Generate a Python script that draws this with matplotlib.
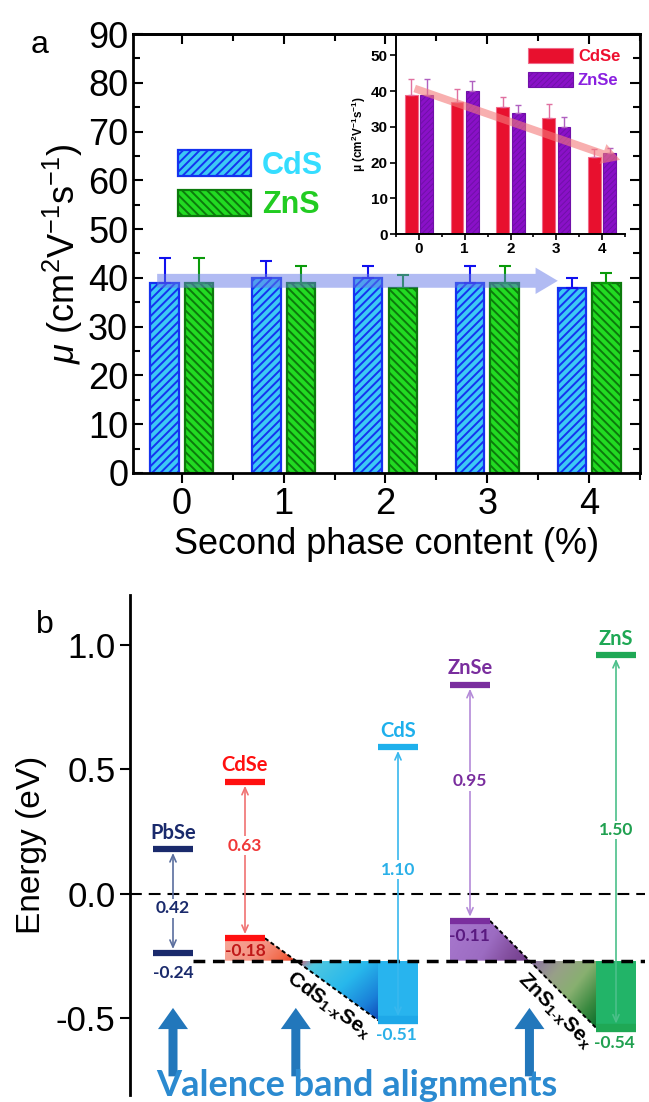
import numpy as np
import matplotlib
matplotlib.use('Agg')
import matplotlib.pyplot as plt
from matplotlib.patches import Polygon, Rectangle, FancyArrowPatch
from matplotlib.colors import LinearSegmentedColormap
from matplotlib.ticker import MultipleLocator

plt.rcParams['font.family'] = ['Liberation Sans', 'DejaVu Sans']
plt.rcParams['mathtext.fontset'] = 'custom'
plt.rcParams['mathtext.rm'] = 'Liberation Sans'
plt.rcParams['mathtext.it'] = 'Liberation Sans:italic'
plt.rcParams['mathtext.bf'] = 'Liberation Sans:bold'
plt.rcParams['lines.scale_dashes'] = False

# ---------------- data: panel a ----------------
content = [0, 1, 2, 3, 4]
cds_mu = [39, 40, 40, 39, 38]
cds_err = [5, 3.5, 2.5, 3.5, 2]
zns_mu = [39, 39, 38, 39, 39]
zns_err = [5, 3.5, 2.5, 3.5, 2]
cdse_mu = [39, 37, 35.5, 32.5, 21.5]
cdse_err = [4.5, 3.5, 3, 3.8, 2.3]
znse_mu = [39, 40, 34, 30, 22.6]
znse_err = [4.5, 2.8, 2, 2.8, 1.5]
main_yticks = [0, 10, 20, 30, 40, 50, 60, 70, 80, 90]
inset_yticks = [0, 10, 20, 30, 40, 50]
s_trend_x = [-0.27, 3.72]
s_trend_y = [39.4, 39.4]
se_trend_x = [-0.15, 4.45]
se_trend_y = [41, 20.5]

# ---------------- data: panel b ----------------
materials = ['PbSe', 'CdSe', 'CdS', 'ZnSe', 'ZnS']
vb_edge = [-0.24, -0.18, -0.51, -0.11, -0.54]
band_gap = [0.42, 0.63, 1.10, 0.95, 1.50]
ref_level = -0.27
energy_ticks = [-0.5, 0.0, 0.5, 1.0]
energy_ticklabels = ['-0.5', '0.0', '0.5', '1.0']
alloys = [(1, 2, 'CdS$_{\\mathbf{1\\text{-}x}}$Se$_{\\mathbf{x}}$'),
          (3, 4, 'ZnS$_{\\mathbf{1\\text{-}x}}$Se$_{\\mathbf{x}}$')]

fig = plt.figure(figsize=(6.49, 11.02), dpi=100)
W, H = 649.0, 1102.0


def px_axes(l, t, r, b):
    return [l / W, 1 - b / H, (r - l) / W, (b - t) / H]


# ================= panel a =================
axa = fig.add_axes(px_axes(133, 34, 640, 473))
x = np.array(content, dtype=float)
w, off = 0.28, 0.17
plt.rcParams['hatch.linewidth'] = 1.4
b1 = axa.bar(x - off, cds_mu, w, color='#3CC8F5', edgecolor='#1432F0',
             hatch='////', linewidth=1.6, zorder=2)
b2 = axa.bar(x + off, zns_mu, w, color='#22DA22', edgecolor='#0C7A0C',
             hatch='\\\\\\\\', linewidth=1.6, zorder=2)
axa.errorbar(x - off, cds_mu, yerr=[np.zeros(5), cds_err], fmt='none',
             ecolor='#1010EE', capsize=4, elinewidth=1.5, capthick=1.5, zorder=3)
axa.errorbar(x + off, zns_mu, yerr=[np.zeros(5), zns_err], fmt='none',
             ecolor='#0A9A0A', capsize=4, elinewidth=1.5, capthick=1.5, zorder=3)
arr = FancyArrowPatch((s_trend_x[0], s_trend_y[0]), (s_trend_x[1], s_trend_y[1]),
                      arrowstyle='simple,head_width=1.9,head_length=1.6,tail_width=1.0',
                      mutation_scale=10, color='#6478E8', alpha=0.5, lw=0, zorder=4)
axa.add_patch(arr)
axa.set_xlim(-0.48, 4.5)
axa.set_ylim(0, 90)
axa.set_yticks(main_yticks)
axa.set_xticks(content)
axa.yaxis.set_minor_locator(MultipleLocator(5))
axa.xaxis.set_minor_locator(MultipleLocator(0.5))
axa.tick_params(axis='both', labelsize=26, width=1.5)
axa.tick_params(axis='y', which='major', direction='in', length=7, left=True, right=True)
axa.tick_params(axis='y', which='minor', direction='in', length=5, width=1.5, left=True, right=True)
axa.tick_params(axis='x', which='major', direction='out', length=7, top=False, pad=3)
axa.tick_params(axis='x', which='minor', direction='out', length=5, width=1.5, top=False)
sec = axa.secondary_xaxis('top')
sec.set_xticks(content)
sec.xaxis.set_minor_locator(MultipleLocator(0.5))
sec.tick_params(which='both', direction='in', labeltop=False, width=1.5)
sec.tick_params(which='major', length=7)
sec.tick_params(which='minor', length=5)
sec.spines['top'].set_linewidth(2)
for s in axa.spines.values():
    s.set_linewidth(2)
axa.set_xlabel('Second phase content (%)', fontsize=26, labelpad=4)
axa.set_ylabel(r'$\mu$ (cm$^2$V$^{-1}$s$^{-1}$)', fontsize=26, labelpad=2)
leg = axa.legend([b1, b2], ['CdS', 'ZnS'], loc='upper left', bbox_to_anchor=(0.089, 0.735),
                 frameon=False, prop={'size': 22, 'weight': 'bold'}, handlelength=2.4,
                 handleheight=0.92, labelspacing=0.3, handletextpad=0.35,
                 borderpad=0, borderaxespad=0)
leg.get_texts()[0].set_color('#35DDFF')
leg.get_texts()[1].set_color('#22CC22')

# inset
axi = fig.add_axes(px_axes(396, 34, 625, 234))
axi.set_facecolor('none')
plt.rcParams['hatch.linewidth'] = 0.7
i1 = axi.bar(x - off, cdse_mu, w, color='#E8102E', edgecolor='#F06A8A', linewidth=0.8, zorder=2)
i2 = axi.bar(x + off, znse_mu, w, color='#8A10C8', edgecolor='#7010A8', hatch='//////',
             linewidth=0.8, zorder=2)
axi.errorbar(x - off, cdse_mu, yerr=[np.zeros(5), cdse_err], fmt='none', ecolor='#E070A0',
             capsize=2, elinewidth=1, capthick=1, zorder=3)
axi.errorbar(x + off, znse_mu, yerr=[np.zeros(5), znse_err], fmt='none', ecolor='#B060C0',
             capsize=2, elinewidth=1, capthick=1, zorder=3)
arr2 = FancyArrowPatch((se_trend_x[0], se_trend_y[0]), (se_trend_x[1], se_trend_y[1]),
                       arrowstyle='simple,head_width=1.5,head_length=1.3,tail_width=0.55',
                       mutation_scale=10, color='#F47A7A', alpha=0.6, lw=0, zorder=4)
axi.add_patch(arr2)
axi.set_xlim(-0.5, 4.5)
axi.set_ylim(0, 56)
axi.set_yticks(inset_yticks)
axi.set_xticks(content)
axi.xaxis.set_minor_locator(MultipleLocator(0.5))
axi.spines['top'].set_visible(False)
axi.spines['right'].set_visible(False)
for s in ['left', 'bottom']:
    axi.spines[s].set_linewidth(1.4)
axi.tick_params(which='both', direction='out', labelsize=11, width=1.2, pad=2)
axi.tick_params(which='major', length=4)
axi.tick_params(which='minor', length=2.5)
for lab in axi.get_xticklabels() + axi.get_yticklabels():
    lab.set_fontweight('bold')
axi.set_ylabel(r'$\mathbf{\mu}$ $\mathbf{(cm^2V^{-1}s^{-1})}$', fontsize=8.5, labelpad=2)
leg2 = axi.legend([i1, i2], ['CdSe', 'ZnSe'], loc='upper left', bbox_to_anchor=(0.576, 0.93),
                  frameon=False, prop={'size': 12, 'weight': 'bold'}, handlelength=2.7,
                  handleheight=1.0, labelspacing=0.45, handletextpad=0.3,
                  borderpad=0, borderaxespad=0)
leg2.get_texts()[0].set_color('#EE1030')
leg2.get_texts()[1].set_color('#8A20E0')

fig.text(40 / W, 1 - 45 / H, 'a', fontsize=23, ha='center', va='center')

# ================= panel b =================
axb = fig.add_axes(px_axes(130, 595, 645, 1095))
col_x = [173, 245, 398, 470, 616]
hw = 20
name_col = ['#1A2A6C', '#FF1010', '#1EB0EC', '#7A2E9E', '#1FA855']
arrow_col = ['#5A6E9E', '#F07272', '#38B8EE', '#B48AD8', '#4CC08A']
gap_col = ['#1A2A6C', '#F03838', '#2AB0E8', '#7A2E9E', '#20A050']
vb_txt_col = ['#1A2A6C', '#C01818', '#2AB0E8', '#5A1A80', '#20A050']
gap_frac = [0.43, 0.59, 0.55, 0.59, 0.53]
lf = ['Lato', 'DejaVu Sans']


def gradient_fill(ax, verts, stops, wx, wy, z):
    verts = np.array(verts, dtype=float)
    x0, x1 = verts[:, 0].min(), verts[:, 0].max()
    y0, y1 = verts[:, 1].min(), verts[:, 1].max()
    u = np.linspace(0, 1, 200)[None, :]
    v = np.linspace(0, 1, 200)[:, None]
    t = wx * u + wy * (1 - v)
    t = (t - t.min()) / (t.max() - t.min())
    cmap = LinearSegmentedColormap.from_list('g', stops)
    im = ax.imshow(cmap(t), extent=(x0, x1, y0, y1), origin='lower', aspect='auto',
                   interpolation='bilinear', zorder=z)
    poly = Polygon(verts, closed=True, fc='none', ec='none', transform=ax.transData)
    ax.add_patch(poly)
    im.set_clip_path(poly)


upper_stops = {1: [(0, '#F6A898'), (0.5, '#F59282'), (0.8, '#F26A4A'), (1, '#EC3A20')],
               3: [(0, '#A878CE'), (0.5, '#9C6CC2'), (0.75, '#8450A0'), (1, '#6E3A88')]}
lower_stops = {2: [(0, '#E8506A'), (0.15, '#50C8E0'), (0.5, '#28B8EC'), (0.8, '#1A80D8'), (1, '#1048B8')],
               4: [(0, '#8A6EA6'), (0.3, '#98A088'), (0.55, '#88B070'), (0.8, '#3A8A40'), (1, '#0C6E2C')]}
rect_col = {2: '#28B4EE', 4: '#22B468'}

up_arrow_x = [col_x[0]]
for ise, isu, lab in alloys:
    vse, vs = vb_edge[ise], vb_edge[isu]
    xa, xb = col_x[ise] + hw, col_x[isu] - hw
    xc = xa + (xb - xa) * (vse - ref_level) / (vse - vs)
    up_arrow_x.append(xc)
    gradient_fill(axb, [(col_x[ise] - hw, vse), (xa, vse), (xc, ref_level), (col_x[ise] - hw, ref_level)],
                  upper_stops[ise], 1.0, 0.3, 1)
    gradient_fill(axb, [(xc, ref_level), (xb, ref_level), (xb, vs)], lower_stops[isu], 1.0, 0.8, 1)
    axb.add_patch(Rectangle((xb, vs), 2 * hw, ref_level - vs, fc=rect_col[isu], ec='none', zorder=1))
    axb.plot([xa, xb], [vse, vs], color='black', lw=1.4, ls=(0, (3, 2)), zorder=3)
    ang = np.degrees(np.arctan2((vs - vse) * 248.6, (xb - xa)))
    xm = (xc + xb) / 2 - 8
    ym = ref_level + (vs - ref_level) * 0.75
    axb.text(xm, ym, lab, rotation=ang, rotation_mode='anchor', ha='center', va='center',
             fontsize=15, fontweight='bold', color='black', zorder=6)

for ux in up_arrow_x:
    axb.arrow(ux, -0.735, 0, 0.275, width=9, head_width=30, head_length=0.085,
              length_includes_head=True, color='#2277BB', lw=0, zorder=5)

axb.axhline(0, color='black', lw=1.5, ls=(0, (8.5, 5)), zorder=2)
axb.plot([col_x[0] + hw, 645], [ref_level, ref_level], color='black', lw=2.5,
         ls=(0, (8.5, 5.5)), zorder=3)

for i, m in enumerate(materials):
    vb = vb_edge[i]
    cb = vb + band_gap[i]
    cx = col_x[i]
    axb.plot([cx - hw, cx + hw], [cb, cb], color=name_col[i], lw=4.5, solid_capstyle='butt', zorder=4)
    axb.plot([cx - hw, cx + hw], [vb, vb], color=name_col[i] if i != 2 else '#1EA8E8',
             lw=4.5 if i not in (2, 4) else 6, solid_capstyle='butt', zorder=4)
    axb.annotate('', xy=(cx, cb), xytext=(cx, vb),
                 arrowprops=dict(arrowstyle='<->,head_length=0.5,head_width=0.22', color=arrow_col[i],
                                 lw=1.2, shrinkA=3, shrinkB=3), zorder=4)
    axb.text(cx, vb + gap_frac[i] * band_gap[i], f'{band_gap[i]:.2f}', ha='center', va='center',
             color=gap_col[i], fontsize=12.5, fontweight='bold', family=lf, zorder=5,
             bbox=dict(fc='white', ec='none', pad=1.0))
    axb.text(cx, cb + 0.065, m, ha='center', va='center', color=name_col[i], fontsize=14.5,
             fontweight='bold', family=lf, zorder=5)

vb_lab_y = [-0.32, -0.23, -0.57, -0.17, -0.60]
vb_lab_x = [173, 245, 396, 469, 614]
for i in range(5):
    axb.text(vb_lab_x[i], vb_lab_y[i], f'{vb_edge[i]:.2f}', ha='center', va='center',
             color=vb_txt_col[i], fontsize=12.5, fontweight='bold', family=lf, zorder=6)

axb.set_xlim(130, 645)
axb.set_ylim(-0.81, 1.20)
for s in ['top', 'right', 'bottom']:
    axb.spines[s].set_visible(False)
axb.spines['left'].set_linewidth(2)
axb.set_xticks([])
axb.set_yticks(energy_ticks)
axb.set_yticklabels(energy_ticklabels)
axb.tick_params(axis='y', direction='out', length=7, width=1.5, labelsize=25)
axb.set_ylabel('Energy (eV)', fontsize=24, labelpad=6)

fig.text(45 / W, 1 - 625 / H, 'b', fontsize=23, ha='center', va='center')
fig.text(357 / W, 1 - 1096 / H, 'Valence band alignments', ha='center', va='baseline',
         fontsize=26, color='#2B8AD0', family=lf, fontweight='bold')

fig.savefig('out.png', dpi=100)
